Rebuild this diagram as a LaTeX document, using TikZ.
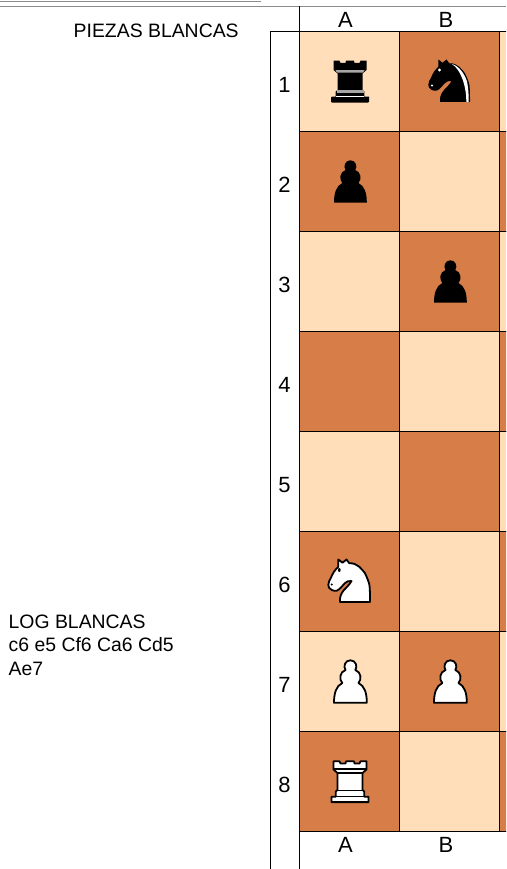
\documentclass[tikz,border=0pt]{standalone}
\usepackage{fontspec}
\setmainfont{Liberation Sans}
\definecolor{lightsq}{RGB}{255,222,185}
\definecolor{darksq}{RGB}{214,125,72}
\definecolor{rulegray}{RGB}{138,140,142}
\tikzset{
  x=1pt,y=-1pt,
  lightcell/.style={fill=lightsq,draw=black,line width=1pt},
  darkcell/.style={fill=darksq,draw=black,line width=1pt},
  gridline/.style={draw=black,line width=1pt},
  toprule/.style={draw=rulegray,line width=1pt},
  headlabel/.style={font=\fontsize{22}{24}\selectfont,inner sep=0pt},
  txt/.style={font=\fontsize{19.4}{23.5}\selectfont,inner sep=0pt,align=left},
  outl/.style={line join=round,line width=1.8pt,draw=black},
  blackrook/.pic={
    \fill[black] (-16,-20.8) -- (-10,-20.8) -- (-9,-18.5) -- (-4,-18.5) -- (-3.5,-20.8) -- (4.5,-20.8) -- (5,-18.5) -- (10,-18.5) -- (11,-20.8) -- (17,-20.8) -- (17,-11.5) -- (13,-8) -- (13,8.5) -- (14.8,10) -- (14.8,15.2) -- (19.5,15.2) [rounded corners=1pt] -- (19.5,21.2) -- (-18.5,21.2) -- (-18.5,15.2) [sharp corners] -- (-13.8,15.2) -- (-13.8,10) -- (-12,8.5) -- (-12,-8) -- (-16,-11.5) -- cycle;
    \fill[white!65!black] (-14,-11.3) -- (15,-11.3) -- (13.5,-8.8) -- (-12.5,-8.8) -- cycle;
    \fill[white!65!black] (-13,9) -- (14,9) -- (14,12) -- (-13,12) -- cycle;
    \fill[white] (-13.5,14.3) -- (14.5,14.3) -- (14.5,15.8) -- (-13.5,15.8) -- cycle;
  },
  whiterook/.pic={
    \draw[outl,fill=white] (-16,-20.2) -- (-10,-20.2) -- (-9,-18) -- (-4,-18) -- (-3.5,-20.2) -- (4.5,-20.2) -- (5,-18) -- (10,-18) -- (11,-20.2) -- (17,-20.2) -- (17,-12) -- (13,-8.5) -- (13,8.5) -- (14.8,10) -- (14.8,15.2) -- (19,15.2) -- (19,20.6) -- (-18,20.6) -- (-18,15.2) -- (-13.8,15.2) -- (-13.8,10) -- (-12,8.5) -- (-12,-8.5) -- (-16,-12) -- cycle;
    \draw[black,line width=1.2pt] (-16,-12.5) -- (17,-12.5) (-12,-8.5) -- (13,-8.5) (-12,9) -- (13,9) (-13.8,15) -- (14.8,15);
  },
  knightpath/.pic={
    \path[pic actions] (20.5,20.5) -- (-9.5,20.5) .. controls (-9.8,16) and (-9,13) .. (-6,9) .. controls (-3,6) and (0,3) .. (2,-0.5) .. controls (-1,-1) and (-3,0) .. (-5,2) .. controls (-7,4) and (-9,7.5) .. (-12.8,9.2) .. controls (-15,9.5) and (-16.5,9) .. (-17.8,8.5) .. controls (-20,7) and (-21.5,5.5) .. (-21.2,3.5) .. controls (-21,0) and (-20,-1) .. (-18.8,-3.2) .. controls (-17.8,-5.5) and (-17,-7.5) .. (-15.5,-9.8) .. controls (-14,-12) and (-12.5,-13.5) .. (-11.2,-14.8) -- (-11.2,-22) -- (-7,-18.8) -- (-3,-22) -- (-0.2,-18.2) .. controls (8,-19) and (13,-11.5) .. (15.5,-8.2) .. controls (18,-3) and (19.5,1) .. (20,4) .. controls (20.5,9) and (20.5,14) .. (20.5,20.5) -- cycle;
  },
  whiteknight/.pic={
    \pic[outl,draw=black,fill=white] {knightpath};
    \fill[black] (-10.2,-11.5) ellipse[x radius=1.4,y radius=2];
    \fill[black] (-17.8,3) circle[radius=1.1];
  },
  blackknight/.pic={
    \pic[fill=black] {knightpath};
    \fill[white] (-10,-11.5) circle[radius=1.6];
    \fill[white] (-17.5,4) circle[radius=1.1];
    \fill[white] (2.2,-17.5) .. controls (9,-16) and (15,-8) .. (17.5,0) .. controls (19,7) and (19.2,14) .. (19.2,20.5) -- (16.8,20.5) .. controls (16.8,12) and (15.5,5) .. (13.5,-1) .. controls (10.5,-9) and (7,-15) .. (2.2,-17.5) -- cycle;
  },
  pawnpath/.pic={
    \path[pic actions] (-15.5,21.2) .. controls (-15.5,12) and (-13.5,4.5) .. (-7.2,1.5) .. controls (-10.5,-2) and (-10,-9.5) .. (-4,-11.5) .. controls (-6.5,-15) and (-4.5,-21.2) .. (0.9,-21.2) .. controls (6.3,-21.2) and (8.3,-15) .. (5.8,-11.5) .. controls (11.8,-9.5) and (12.3,-2) .. (9,1.5) .. controls (15.3,4.5) and (17.3,12) .. (17.3,21.2) -- cycle;
  },
  blackpawn/.pic={\pic[fill=black] {pawnpath};},
  whitepawn/.pic={\pic[outl,draw=black,fill=white] {pawnpath};},
}
\begin{document}
\begin{tikzpicture}
\useasboundingbox (0,0) rectangle (506,869);
\begin{scope}
\clip (0,0) rectangle (506,869);
\foreach \r in {0,...,7}{
  \pgfmathtruncatemacro{\odd}{mod(\r,2)}
  \ifnum\odd=0
    \path[lightcell] (299.5,31.5+100*\r) rectangle ++(100,100);
    \path[darkcell] (399.5,31.5+100*\r) rectangle ++(100,100);
    \path[lightcell] (499.5,31.5+100*\r) rectangle ++(100,100);
  \else
    \path[darkcell] (299.5,31.5+100*\r) rectangle ++(100,100);
    \path[lightcell] (399.5,31.5+100*\r) rectangle ++(100,100);
    \path[darkcell] (499.5,31.5+100*\r) rectangle ++(100,100);
  \fi
}
\end{scope}
\coordinate (ruleAa) at (0,1.5);
\coordinate (ruleAb) at (261,1.5);
\coordinate (ruleBa) at (0,6.5);
\coordinate (ruleBb) at (506,6.5);
\draw[toprule] (ruleAa) -- (ruleAb);
\draw[toprule] (ruleBa) -- (ruleBb);
\coordinate (gridTop) at (299.5,6.5);
\coordinate (gridBottom) at (299.5,869);
\coordinate (leftTop) at (270.5,31.5);
\coordinate (leftBottom) at (270.5,869);
\coordinate (rightTop) at (506,31.5);
\draw[gridline] (gridTop) -- (gridBottom);
\draw[gridline] (leftTop) -- (leftBottom);
\draw[gridline] (leftTop) -- (rightTop);
\node[txt,anchor=west] (title) at (73.5,31) {PIEZAS BLANCAS};
\node[txt,anchor=north west] (log) at (8.5,614.5) {LOG BLANCAS\\c6 e5 Cf6 Ca6 Cd5\\Ae7};
\node[headlabel] (topA) at (345.5,20) {A};
\node[headlabel] (topB) at (446,20) {B};
\node[headlabel] (botA) at (345.5,845) {A};
\node[headlabel] (botB) at (446,845) {B};
\foreach \r in {1,...,8}{
  \node[headlabel] (row\r) at (284.5,85+100*\r-100) {\r};
}
\pic at (349.5,81.5) {blackrook};
\pic at (449.5,81.5) {blackknight};
\pic at (349.5,181.5) {blackpawn};
\pic at (449.5,281.5) {blackpawn};
\pic at (349.5,581.5) {whiteknight};
\pic at (349.5,681.5) {whitepawn};
\pic at (449.5,681.5) {whitepawn};
\pic at (349.5,781.5) {whiterook};
\end{tikzpicture}
\end{document}
